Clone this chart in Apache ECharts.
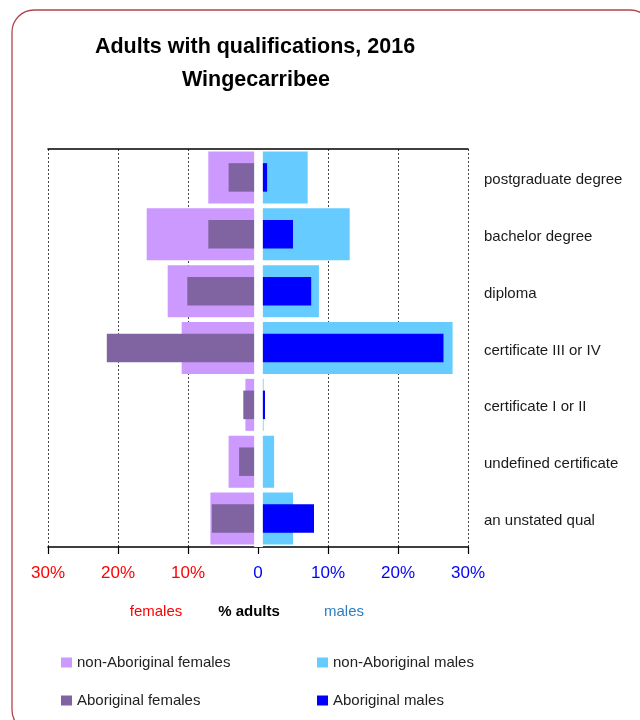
<!DOCTYPE html>
<html>
<head>
<meta charset="utf-8">
<script src="https://cdn.jsdelivr.net/npm/echarts@6/dist/echarts.min.js"></script>
<style>
  html, body { margin: 0; padding: 0; background: #fff; }
  #chart { width: 640px; height: 720px; }
</style>
</head>
<body>
<div id="chart"></div>
<script>
// Qualification categories, top to bottom
const categories = [
  'postgraduate degree',
  'bachelor degree',
  'diploma',
  'certificate III or IV',
  'certificate I or II',
  'undefined certificate',
  'an unstated qual'
];

// Share of adults (%) in each group
const nonAboriginalFemales = [7.1, 15.9, 12.9, 10.9, 1.8, 4.2, 6.8];
const aboriginalFemales    = [4.2, 7.1, 10.1, 21.6, 2.1, 2.7, 6.6];
const nonAboriginalMales   = [7.1, 13.1, 8.7, 27.8, 0.8, 2.3, 5.0];
const aboriginalMales      = [1.3, 5.0, 7.6, 26.5, 1.0, 0, 8.0];

// Axis range and step (%); females plotted to the left of zero
const axisMin = -30;
const axisMax = 30;
const axisStep = 10;

const FONT = '"Liberation Sans", Arial, Helvetica, sans-serif';
const neg = arr => arr.map(v => -v);

const chart = echarts.init(document.getElementById('chart'), null, { renderer: 'canvas' });

function legendItem(name, left, top) {
  return {
    data: [name],
    left: left,
    top: top,
    padding: 0,
    icon: 'rect',
    itemWidth: 11,
    itemHeight: 10,
    selectedMode: false,
    textStyle: { fontFamily: FONT, fontSize: 15, color: '#222' }
  };
}

const option = {
  animation: false,
  backgroundColor: '#fff',
  grid: { left: 48, top: 149, width: 420, height: 398, containLabel: false },
  legend: [
    legendItem('non-Aboriginal females', 61, 655),
    legendItem('non-Aboriginal males', 317, 655),
    legendItem('Aboriginal females', 61, 693),
    legendItem('Aboriginal males', 317, 693)
  ],
  xAxis: [
    {
      type: 'value',
      min: axisMin,
      max: axisMax,
      interval: axisStep,
      position: 'bottom',
      axisLine: { show: true, onZero: false, lineStyle: { color: '#000', width: 1.6 } },
      axisTick: { show: true, length: 7, lineStyle: { color: '#000', width: 1.2 } },
      splitLine: { show: true, lineStyle: { color: '#444', width: 1, type: [2, 2] } },
      axisLabel: {
        margin: 18,
        fontFamily: FONT,
        fontSize: 17,
        formatter: v => (v === 0 ? '0' : Math.abs(v) + '%'),
        color: v => (Number(v) < 0 ? '#ff0000' : '#0000ff')
      }
    },
    {
      type: 'value',
      min: axisMin,
      max: axisMax,
      interval: axisStep,
      position: 'top',
      z: 6,
      axisLine: { show: true, onZero: false, lineStyle: { color: '#000', width: 1.6 } },
      axisTick: { show: false },
      axisLabel: { show: false },
      splitLine: { show: false }
    }
  ],
  yAxis: [
    {
      type: 'category',
      data: categories,
      inverse: true,
      position: 'right',
      axisLine: { show: false },
      axisTick: { show: false },
      splitLine: { show: false },
      axisLabel: {
        margin: 16,
        formatter: v => '{c|' + v + '}',
        rich: {
          c: {
            padding: [5, 0, 0, 0],
            fontFamily: FONT,
            fontSize: 15,
            color: '#1a1a1a'
          }
        }
      }
    },
    {
      type: 'category',
      data: categories,
      inverse: true,
      show: false
    }
  ],
  series: [
    {
      name: 'non-Aboriginal females',
      type: 'bar',
      yAxisIndex: 0,
      stack: 'nonAboriginal',
      barWidth: 52,
      itemStyle: { color: '#cc99ff' },
      emphasis: { disabled: true },
      data: neg(nonAboriginalFemales)
    },
    {
      name: 'non-Aboriginal males',
      type: 'bar',
      yAxisIndex: 0,
      stack: 'nonAboriginal',
      barWidth: 52,
      itemStyle: { color: '#66ccff' },
      emphasis: { disabled: true },
      data: nonAboriginalMales
    },
    {
      name: 'Aboriginal females',
      type: 'bar',
      yAxisIndex: 1,
      stack: 'aboriginal',
      barWidth: 28.5,
      itemStyle: { color: '#8064a2' },
      emphasis: { disabled: true },
      data: neg(aboriginalFemales)
    },
    {
      name: 'Aboriginal males',
      type: 'bar',
      yAxisIndex: 1,
      stack: 'aboriginal',
      barWidth: 28.5,
      itemStyle: { color: '#0000ff' },
      emphasis: { disabled: true },
      data: aboriginalMales,
      // white spine separating the female and male halves
      markLine: {
        silent: true,
        symbol: 'none',
        label: { show: false },
        lineStyle: { color: '#fff', width: 8.7, type: 'solid' },
        data: [{ xAxis: 0 }]
      }
    }
  ],
  graphic: [
    {
      type: 'rect',
      silent: true,
      shape: { x: 12, y: 10, width: 640, height: 722, r: 22 },
      style: { fill: 'none', stroke: '#b3434a', lineWidth: 1.3 }
    },
    {
      type: 'text',
      style: {
        text: 'Adults with qualifications, 2016',
        x: 255, y: 47,
        textAlign: 'center', textVerticalAlign: 'middle',
        font: 'bold 21.5px ' + FONT, fill: '#000'
      }
    },
    {
      type: 'text',
      style: {
        text: 'Wingecarribee',
        x: 256, y: 80,
        textAlign: 'center', textVerticalAlign: 'middle',
        font: 'bold 21.5px ' + FONT, fill: '#000'
      }
    },
    {
      type: 'text',
      style: {
        text: 'females',
        x: 156, y: 612,
        textAlign: 'center', textVerticalAlign: 'middle',
        font: '15px ' + FONT, fill: '#ff0000'
      }
    },
    {
      type: 'text',
      style: {
        text: '% adults',
        x: 249, y: 612,
        textAlign: 'center', textVerticalAlign: 'middle',
        font: 'bold 15px ' + FONT, fill: '#000'
      }
    },
    {
      type: 'text',
      style: {
        text: 'males',
        x: 344, y: 612,
        textAlign: 'center', textVerticalAlign: 'middle',
        font: '15px ' + FONT, fill: '#2b80c5'
      }
    }
  ]
};

chart.setOption(option);
</script>
</body>
</html>
